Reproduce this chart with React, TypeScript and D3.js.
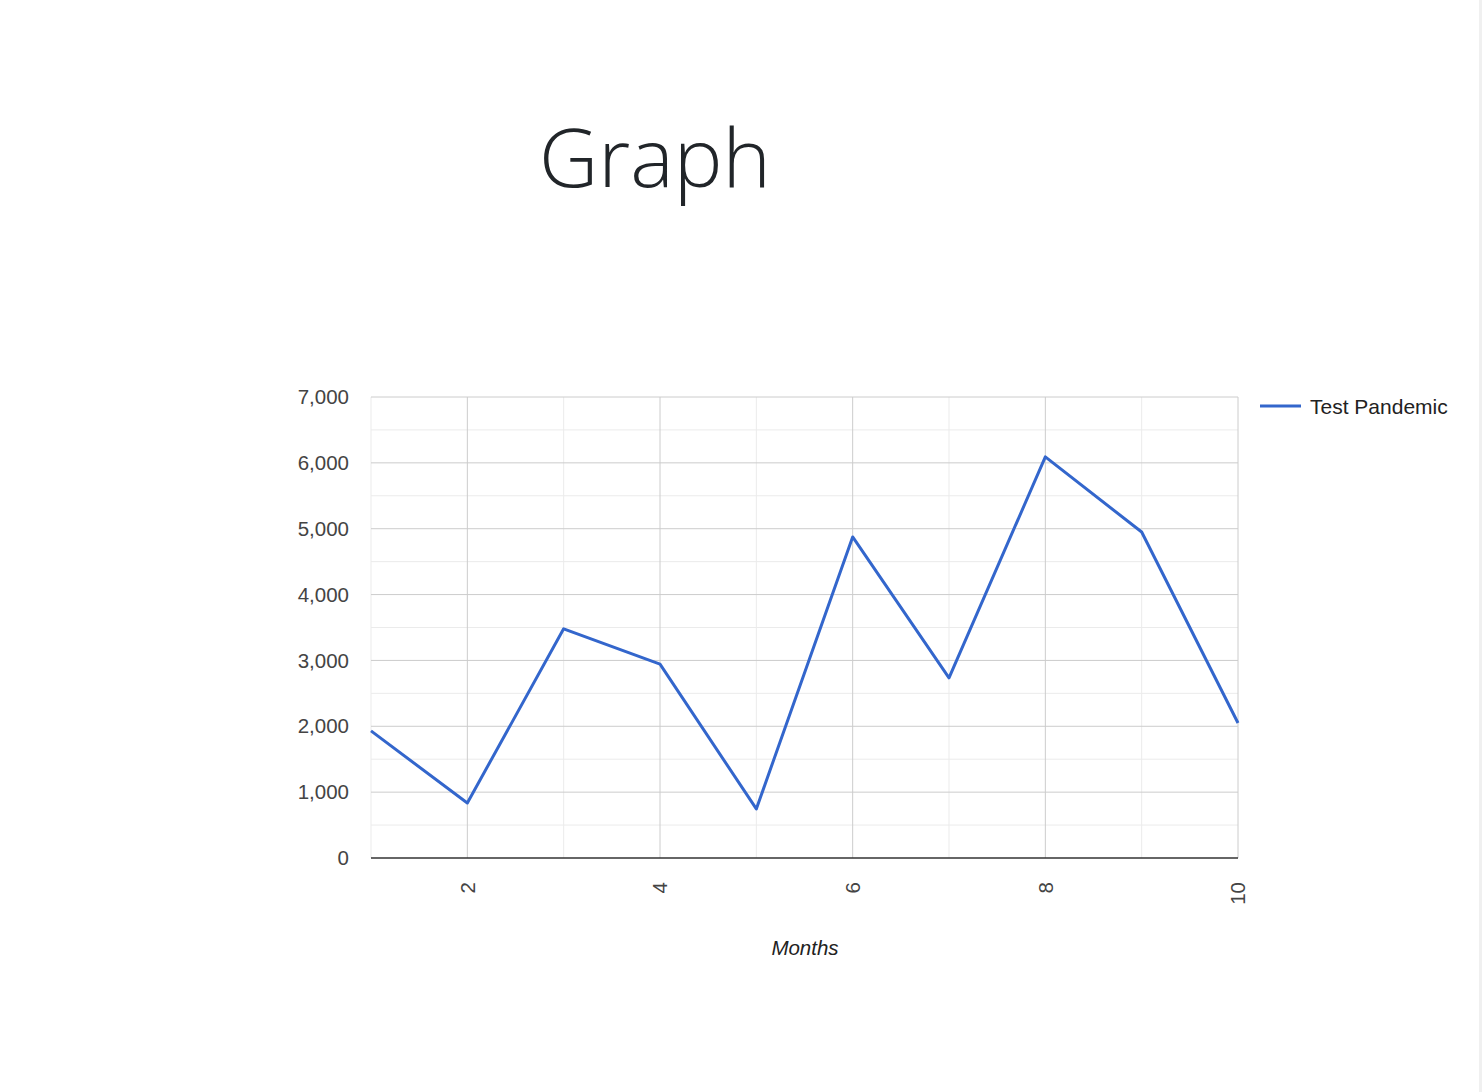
import * as d3 from 'd3';
import { useEffect, useRef } from 'react';

const months = [1, 2, 3, 4, 5, 6, 7, 8, 9, 10];
const cases = [1930, 835, 3480, 2945, 745, 4875, 2735, 6090, 4950, 2050];
const yTicks = [0, 1000, 2000, 3000, 4000, 5000, 6000, 7000];
const xTicks = [2, 4, 6, 8, 10];
const seriesName = 'Test Pandemic';

export default function App() {
  const svgRef = useRef<SVGSVGElement>(null);

  useEffect(() => {
    const svgEl = svgRef.current;
    if (!svgEl) return;

    const width = 1482;
    const height = 1092;
    const margin = { top: 397, right: 244, bottom: 234, left: 371 };
    const innerW = width - margin.left - margin.right;
    const innerH = height - margin.top - margin.bottom;
    const font = '"Liberation Sans", Arial, sans-serif';

    const svg = d3.select(svgEl);
    svg.attr('width', width).attr('height', height);
    svg.selectAll('*').remove();

    svg.append('rect').attr('width', width).attr('height', height).attr('fill', '#fff');
    // scrollbar strip on the right
    svg.append('rect').attr('x', 1479).attr('y', 0).attr('width', 3).attr('height', height).attr('fill', '#f0f0f0');

    svg
      .append('text')
      .attr('x', 655)
      .attr('y', 187)
      .attr('text-anchor', 'middle')
      .attr('font-family', '"Open Sans", "Noto Sans", sans-serif')
      .attr('font-weight', 300)
      .attr('font-size', 82)
      .attr('fill', '#212529')
      .text('Graph');

    const g = svg.append('g').attr('transform', `translate(${margin.left},${margin.top})`);

    const x = d3.scaleLinear().domain([1, 10]).range([0, innerW]);
    const y = d3.scaleLinear().domain([0, 7000]).range([innerH, 0]);

    // minor horizontal gridlines
    const minorY = d3.range(500, 7000, 1000);
    g.selectAll('.minor-y')
      .data(minorY)
      .join('line')
      .attr('x1', 0)
      .attr('x2', innerW)
      .attr('y1', (d) => y(d))
      .attr('y2', (d) => y(d))
      .attr('stroke', '#ebebeb');

    // minor vertical gridlines
    const minorX = [1, 3, 5, 7, 9];
    g.selectAll('.minor-x')
      .data(minorX)
      .join('line')
      .attr('x1', (d) => x(d))
      .attr('x2', (d) => x(d))
      .attr('y1', 0)
      .attr('y2', innerH)
      .attr('stroke', '#ebebeb');

    g.selectAll('.major-y')
      .data(yTicks.slice(1))
      .join('line')
      .attr('x1', 0)
      .attr('x2', innerW)
      .attr('y1', (d) => y(d))
      .attr('y2', (d) => y(d))
      .attr('stroke', '#cccccc');

    g.selectAll('.major-x')
      .data(xTicks)
      .join('line')
      .attr('x1', (d) => x(d))
      .attr('x2', (d) => x(d))
      .attr('y1', 0)
      .attr('y2', innerH)
      .attr('stroke', '#cccccc');

    // baseline
    g.append('line')
      .attr('x1', 0)
      .attr('x2', innerW)
      .attr('y1', y(0))
      .attr('y2', y(0))
      .attr('stroke', '#333')
      .attr('stroke-width', 1.5);

    const fmt = d3.format(',');
    g.selectAll('.y-label')
      .data(yTicks)
      .join('text')
      .attr('x', -22)
      .attr('y', (d) => y(d))
      .attr('dy', '0.35em')
      .attr('text-anchor', 'end')
      .attr('font-family', font)
      .attr('font-size', 20.5)
      .attr('fill', '#444')
      .text((d) => fmt(d));

    g.selectAll('.x-label')
      .data(xTicks)
      .join('text')
      .attr('transform', (d) => `translate(${x(d)},${innerH + 24}) rotate(-90)`)
      .attr('dy', '0.35em')
      .attr('text-anchor', 'end')
      .attr('font-family', font)
      .attr('font-size', 20.5)
      .attr('fill', '#444')
      .text((d) => d);

    g.append('text')
      .attr('x', 805 - margin.left)
      .attr('y', 955 - margin.top)
      .attr('text-anchor', 'middle')
      .attr('font-family', font)
      .attr('font-style', 'italic')
      .attr('font-size', 20.5)
      .attr('fill', '#222')
      .text('Months');

    const line = d3
      .line<number>()
      .x((_, i) => x(months[i]))
      .y((d) => y(d));

    g.append('path')
      .datum(cases)
      .attr('d', line)
      .attr('fill', 'none')
      .attr('stroke', '#3366cc')
      .attr('stroke-width', 3)
      .attr('stroke-linejoin', 'round');

    // legend
    svg
      .append('line')
      .attr('x1', 1260)
      .attr('x2', 1301)
      .attr('y1', 406)
      .attr('y2', 406)
      .attr('stroke', '#3366cc')
      .attr('stroke-width', 3);
    svg
      .append('text')
      .attr('x', 1310)
      .attr('y', 407)
      .attr('dy', '0.35em')
      .attr('font-family', font)
      .attr('font-size', 21)
      .attr('fill', '#222')
      .text(seriesName);
  }, []);

  return (
    <div style={{ position: 'fixed', left: 0, top: 0 }}>
      <svg ref={svgRef} role="img" aria-label="Graph" style={{ display: 'block' }} />
    </div>
  );
}
